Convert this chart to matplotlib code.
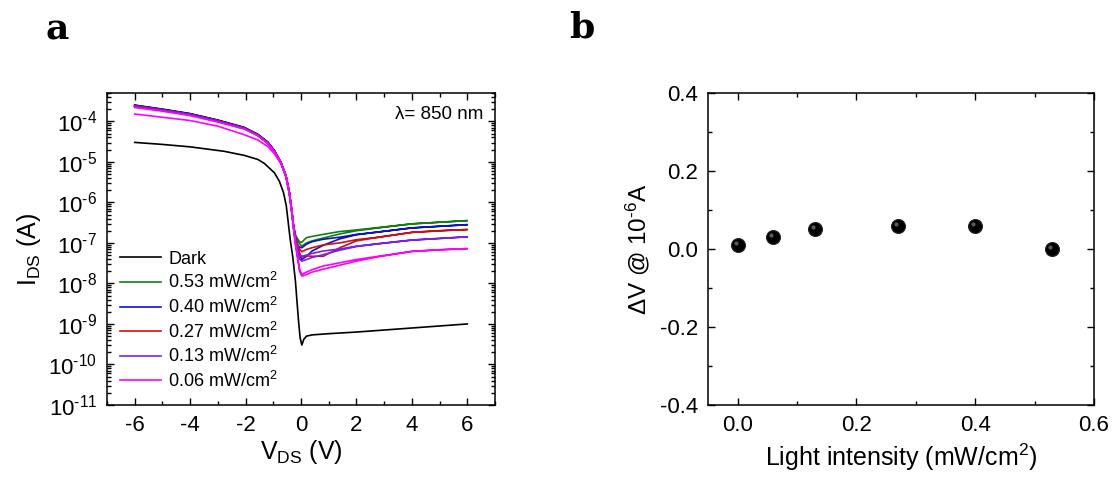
import numpy as np
import matplotlib
matplotlib.use("Agg")
import matplotlib.pyplot as plt
import matplotlib.transforms as mtransforms
from matplotlib.ticker import LogLocator, MultipleLocator, NullFormatter, FuncFormatter

plt.rcParams["font.family"] = ["Liberation Sans", "DejaVu Sans"]
plt.rcParams["mathtext.fontset"] = "custom"
plt.rcParams["mathtext.rm"] = "Liberation Sans"
plt.rcParams["mathtext.it"] = "Liberation Sans:italic"
plt.rcParams["mathtext.bf"] = "Liberation Sans:bold"
plt.rcParams["axes.unicode_minus"] = False

# ---- panel a: I-V sweeps, log10(I_DS / A) ----
V_neg = [-6, -5, -4, -3, -2.05, -1.56, -1.2, -0.96, -0.72, -0.54, -0.42, -0.34, -0.27,
         -0.2, -0.12, -0.05]
V_pos = [0.03, 0.2, 0.4, 0.8, 1.4, 2.0, 2.8, 4, 5, 6]

dark_V = [-6, -5, -4, -2.77, -2.05, -1.56, -1.32, -0.96, -0.78, -0.63, -0.53, -0.46,
          -0.39, -0.30, -0.2, -0.15, -0.08, -0.03, 0.03, 0.1, 0.2, 0.4, 1, 2, 3, 4, 5, 6]
dark_log = [-4.52, -4.57, -4.63, -4.74, -4.84, -4.94, -5.04, -5.27, -5.48, -5.76, -6.09,
            -6.50, -6.91, -7.33, -7.95, -8.4, -9.0, -9.35, -9.52, -9.38, -9.3, -9.27,
            -9.24, -9.2, -9.15, -9.1, -9.05, -9.0]

green_neg_a = [-3.61, -3.71, -3.82, -3.98, -4.16, -4.33, -4.52, -4.73, -5.02, -5.35, -5.76,
               -6.17, -6.59, -6.85, -6.95, -7.02]
green_pos_lo = [-7.08, -7.0, -6.95, -6.88, -6.78, -6.7, -6.63, -6.53, -6.49, -6.45]
green_pos_up = [-6.98, -6.87, -6.84, -6.79, -6.72, -6.68, -6.62, -6.53, -6.49, -6.45]
green_neg_b = [-3.60, -3.70, -3.81, -3.97, -4.15, -4.32, -4.51, -4.72, -5.01, -5.34, -5.75,
               -6.15, -6.55, -6.8, -6.9, -6.98]

blue_neg_a = [-3.60, -3.70, -3.81, -3.97, -4.15, -4.32, -4.51, -4.72, -5.02, -5.35, -5.76,
              -6.17, -6.59, -6.95, -7.15, -7.3]
blue_pos_lo = [-7.41, -7.33, -7.2, -7.06, -6.9, -6.8, -6.73, -6.63, -6.59, -6.55]
blue_pos_up = [-7.12, -7.03, -6.97, -6.91, -6.86, -6.79, -6.73, -6.63, -6.59, -6.55]
blue_neg_b = [-3.61, -3.71, -3.82, -3.98, -4.16, -4.33, -4.52, -4.73, -5.03, -5.36, -5.77,
              -6.17, -6.59, -6.9, -7.05, -7.1]

red_neg_a = [-3.62, -3.72, -3.83, -3.99, -4.17, -4.34, -4.53, -4.74, -5.03, -5.36, -5.77,
             -6.18, -6.6, -6.95, -7.1, -7.25]
red_pos_lo = [-7.35, -7.32, -7.33, -7.33, -7.12, -6.95, -6.86, -6.74, -6.7, -6.67]
red_pos_up = [-7.22, -7.16, -7.12, -7.05, -7.0, -6.92, -6.86, -6.74, -6.7, -6.67]
red_neg_b = [-3.62, -3.72, -3.83, -3.99, -4.17, -4.34, -4.53, -4.74, -5.03, -5.36, -5.77,
             -6.18, -6.6, -6.9, -7.05, -7.15]

purple_neg_a = [-3.64, -3.73, -3.84, -4.0, -4.18, -4.35, -4.54, -4.75, -5.04, -5.37, -5.78,
                -6.2, -6.62, -7.0, -7.25, -7.4]
purple_pos_lo = [-7.45, -7.41, -7.36, -7.29, -7.18, -7.09, -7.02, -6.93, -6.89, -6.85]
purple_pos_up = [-7.33, -7.3, -7.26, -7.2, -7.15, -7.08, -7.02, -6.93, -6.89, -6.85]
purple_neg_b = [-3.64, -3.73, -3.84, -4.0, -4.18, -4.35, -4.54, -4.75, -5.04, -5.37, -5.78,
                -6.2, -6.62, -6.95, -7.15, -7.3]

magenta_neg_a = [-3.82, -3.90, -3.98, -4.12, -4.33, -4.46, -4.62, -4.80, -5.05, -5.37, -5.78,
                 -6.2, -6.62, -7.05, -7.4, -7.7]
magenta_pos_lo = [-7.82, -7.78, -7.72, -7.65, -7.55, -7.45, -7.34, -7.21, -7.17, -7.14]
magenta_pos_up = [-7.78, -7.72, -7.66, -7.57, -7.49, -7.41, -7.33, -7.21, -7.17, -7.14]
magenta_neg_b = [-3.66, -3.75, -3.86, -4.02, -4.19, -4.35, -4.54, -4.74, -5.03, -5.36, -5.77,
                 -6.18, -6.6, -7.0, -7.35, -7.65]

labels_a = ["Dark", "0.53 mW/cm$^2$", "0.40 mW/cm$^2$", "0.27 mW/cm$^2$",
            "0.13 mW/cm$^2$", "0.06 mW/cm$^2$"]
colors_a = ["black", "#118011", "#1010c8", "#cc1010", "#7a1ff0", "#ff00ff"]

# ---- panel b: delta V at 1e-6 A vs light intensity ----
intensity = [0.0, 0.06, 0.13, 0.27, 0.40, 0.53]
delta_v = [0.009, 0.030, 0.051, 0.058, 0.058, 0.0]

fig = plt.figure(figsize=(11.18, 4.79), dpi=100)
ax1 = fig.add_axes([107 / 1118, 74 / 479, 388 / 1118, 312 / 479])
ax2 = fig.add_axes([708 / 1118, 74 / 479, 386 / 1118, 312 / 479])

ax1.plot(dark_V, 10 ** np.array(dark_log), color=colors_a[0], lw=1.2, label=labels_a[0])
light = [
    (green_neg_a, green_pos_lo, green_pos_up, green_neg_b),
    (blue_neg_a, blue_pos_lo, blue_pos_up, blue_neg_b),
    (red_neg_a, red_pos_lo, red_pos_up, red_neg_b),
    (purple_neg_a, purple_pos_lo, purple_pos_up, purple_neg_b),
    (magenta_neg_a, magenta_pos_lo, magenta_pos_up, magenta_neg_b),
]
for (na, pl, pu, nb), c, lab in zip(light, colors_a[1:], labels_a[1:]):
    v = V_neg + V_pos + V_pos[::-1] + V_neg[::-1]
    lg = na + pl + pu[::-1] + nb[::-1]
    ax1.plot(v, 10 ** np.array(lg), color=c, lw=1.2, label=lab)


def pow10(v, pos):
    e = int(round(np.log10(v)))
    return "10$^{\\text{%s}}$" % str(e)


ax1.set_yscale("log")
ax1.set_xlim(-7, 7)
ax1.set_ylim(1e-11, 5e-4)
ax1.xaxis.set_major_locator(MultipleLocator(2))
ax1.xaxis.set_minor_locator(MultipleLocator(1))
ax1.yaxis.set_major_locator(LogLocator(base=10, numticks=20))
ax1.yaxis.set_minor_locator(LogLocator(base=10, subs=np.arange(2, 10), numticks=20))
ax1.yaxis.set_major_formatter(FuncFormatter(pow10))
ax1.yaxis.set_minor_formatter(NullFormatter())
ax1.set_xlabel("V$_{\\rm DS}$ (V)", fontsize=18, labelpad=2)
ax1.set_ylabel("I$_{\\rm DS}$ (A)", fontsize=18, labelpad=4)
ax1.text(0.97, 0.93, "λ= 850 nm", transform=ax1.transAxes, ha="right", va="center",
         fontsize=13.5)
ax1.legend(loc="lower left", bbox_to_anchor=(0.0, 0.005), frameon=False, fontsize=13,
           handlelength=2.3, handletextpad=0.4, labelspacing=0.25, borderaxespad=0.3)

# sphere-like markers: black ball plus a faint highlight
ax2.plot(intensity, delta_v, "o", color="black", ms=10, mec="#222222", mew=0.8)
hl = mtransforms.offset_copy(ax2.transData, fig=fig, x=-2, y=2, units="dots")
ax2.plot(intensity, delta_v, "o", color="#5a5a5a", ms=3, mew=0, transform=hl)
ax2.set_xlim(-0.05, 0.6)
ax2.set_ylim(-0.4, 0.4)
ax2.xaxis.set_major_locator(MultipleLocator(0.2))
ax2.xaxis.set_minor_locator(MultipleLocator(0.1))
ax2.yaxis.set_major_locator(MultipleLocator(0.2))
ax2.yaxis.set_minor_locator(MultipleLocator(0.1))
ax2.xaxis.set_major_formatter(lambda x, p: f"{x:.1f}")
ax2.yaxis.set_major_formatter(lambda x, p: f"{x:.1f}")
ax2.set_xlabel("Light intensity (mW/cm$^2$)", fontsize=18, labelpad=4)
ax2.set_ylabel("ΔV @ 10$^{\\text{-6}}$A", fontsize=17.5, labelpad=6)

for ax in (ax1, ax2):
    for s in ax.spines.values():
        s.set_linewidth(1.1)
    ax.tick_params(which="both", direction="in", top=True, right=True, labelsize=16,
                   width=1.0, pad=7)
    ax.tick_params(which="major", length=5)
    ax.tick_params(which="minor", length=3)

fig.text(57 / 1118, 1 - 30 / 479, "a", fontsize=26, fontweight="bold", family="DejaVu Serif",
         ha="center", va="center")
fig.text(582 / 1118, 1 - 28 / 479, "b", fontsize=26, fontweight="bold", family="DejaVu Serif",
         ha="center", va="center")

fig.savefig("out.png", dpi=100)
